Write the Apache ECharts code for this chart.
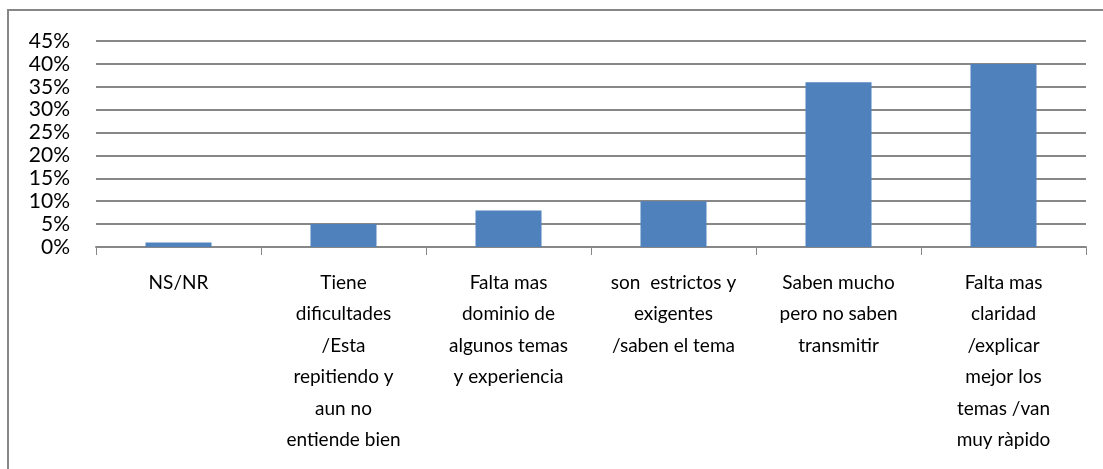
<!DOCTYPE html>
<html>
<head>
<meta charset="utf-8">
<script src="https://cdn.jsdelivr.net/npm/echarts@6/dist/echarts.min.js"></script>
<style>
  html, body { margin: 0; padding: 0; background: #fff; }
  #chart { width: 1103px; height: 469px; }
</style>
</head>
<body>
<div id="chart"></div>
<script>
// Opinion categories (line breaks as shown under each bar)
const categories = [
  'NS/NR',
  'Tiene\ndificultades\n/Esta\nrepitiendo y\naun no\nentiende bien',
  'Falta mas\ndominio de\nalgunos temas\ny experiencia',
  'son  estrictos y\nexigentes\n/saben el tema',
  'Saben mucho\npero no saben\ntransmitir',
  'Falta mas\nclaridad\n/explicar\nmejor los\ntemas /van\nmuy ràpido'
];
// Share of responses (fraction)
const values = [0.01, 0.05, 0.08, 0.10, 0.36, 0.40];
// Value axis range
const yMin = 0;
const yMax = 0.45;
const yStep = 0.05;

const FONT = 'Lato';
const chart = echarts.init(document.getElementById('chart'), null, { renderer: 'canvas' });

chart.setOption({
  animation: false,
  backgroundColor: '#ffffff',
  textStyle: { fontFamily: FONT },
  grid: { left: 96, right: 17, top: 41, bottom: 222, containLabel: false },
  graphic: [{
    type: 'polyline',
    shape: { points: [[8, 469], [8, 10], [1103, 10]] },
    style: { stroke: '#878787', lineWidth: 2, fill: null },
    silent: true
  }],
  xAxis: {
    type: 'category',
    data: categories,
    boundaryGap: true,
    axisLine: { show: true, lineStyle: { color: '#878787', width: 2 } },
    axisTick: { show: true, alignWithLabel: false, length: 8, lineStyle: { color: '#878787', width: 1 } },
    axisLabel: {
      interval: 0,
      margin: 20,
      color: '#000',
      fontFamily: FONT,
      fontSize: 19,
      lineHeight: 31.5,
      align: 'center'
    }
  },
  yAxis: {
    type: 'value',
    min: yMin,
    max: yMax,
    interval: yStep,
    axisLine: { show: false },
    axisTick: { show: false },
    splitLine: { show: true, lineStyle: { color: '#878787', width: 2 } },
    axisLabel: {
      margin: 26,
      color: '#000',
      fontFamily: FONT,
      fontSize: 21,
      formatter: v => Math.round(v * 100) + '%'
    }
  },
  series: [{
    type: 'bar',
    data: values,
    barWidth: '40%',
    itemStyle: { color: '#4F81BD' },
    z: 3
  }]
});
</script>
</body>
</html>
